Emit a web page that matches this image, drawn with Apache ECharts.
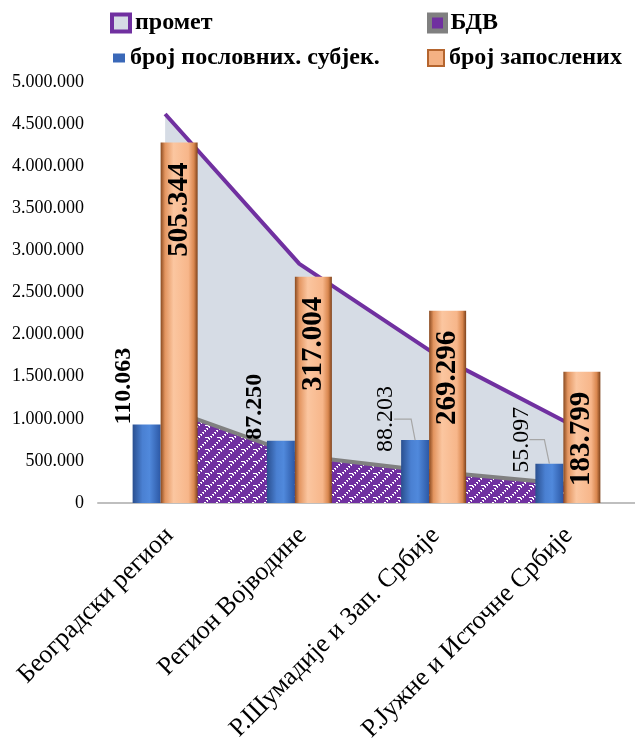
<!DOCTYPE html>
<html><head><meta charset="utf-8">
<script src="https://cdn.jsdelivr.net/npm/echarts@6/dist/echarts.min.js"></script>
<style>html,body{margin:0;padding:0;background:#fff}#c{width:635px;height:745px}</style>
</head><body><div id="c"></div>
<script>
// ---- data ----
const categories = ['Београдски регион', 'Регион Војводине', 'Р.Шумадије и Зап. Србије', 'Р.Јужне и Источне Србије'];
const prometValues = [4620000, 2840000, 1780000, 950000];
const bdvValues = [1130000, 560000, 375000, 225000];
const subjektiValues = [110063, 87250, 88203, 55097];
const zaposleniValues = [505344, 317004, 269296, 183799];
const seriesNames = ['промет', 'БДВ', 'број пословних. субјек.', 'број запослених'];

// ---- styling helpers ----
const SERIF = '"Liberation Serif", "Times New Roman", serif';
const fmt = v => String(Math.round(v)).replace(/\B(?=(\d{3})+(?!\d))/g, '.');

function makePattern() {
  const n = 12;
  const c = document.createElement('canvas');
  c.width = n; c.height = n;
  const g = c.getContext('2d');
  g.fillStyle = '#7030A0';
  g.fillRect(0, 0, n, n);
  g.fillStyle = '#ffffff';
  for (let i = 0; i < 6; i++) g.fillRect(i * 2, n - 2 - i * 2, 2, 1);
  for (let i = 0; i < 6; i++) g.fillRect(i * 2 + 1, n - 1 - i * 2, 1, 1);
  g.fillRect(1, 5, 4, 1);
  return c;
}

// label placement styles for the blue bars (relative to bar rect top-left)
const blueLabelPos = [[-9, 0], [-12, -1], [-15, 12], [-14, 9]];
const blueLabelWeight = ['bold', 'bold', 'normal', 'normal'];
// leader line offsets relative to the bar top centre
const leaderPath = [null, null, [[-21, -21], [-4, -21], [0, 0]], [[-20, -24], [-5, -24], [0, 0]]];
const blueCenterOffset = -18.5;

const blueGrad = new echarts.graphic.LinearGradient(0, 0, 1, 0, [
  { offset: 0, color: '#2A4F8F' }, { offset: 0.35, color: '#4A80D2' },
  { offset: 0.6, color: '#5089DC' }, { offset: 1, color: '#2C58A5' }
]);
const orangeGrad = new echarts.graphic.LinearGradient(0, 0, 1, 0, [
  { offset: 0, color: '#8A4A20' }, { offset: 0.12, color: '#E39560' },
  { offset: 0.35, color: '#FBC6A0' }, { offset: 0.75, color: '#F7B68A' },
  { offset: 0.9, color: '#D9874F' }, { offset: 1, color: '#7E421B' }
]);

const legendText = { fontFamily: SERIF, fontWeight: 'bold', fontSize: 24, color: '#000' };
function legend(name, left, top, w, h, itemStyle) {
  return {
    data: [{ name: name, icon: 'rect', itemStyle: itemStyle }],
    left: left, top: top, padding: 0, itemWidth: w, itemHeight: h,
    itemGap: 0, textStyle: legendText, selectedMode: false
  };
}

const chart = echarts.init(document.getElementById('c'));
chart.setOption({
  animation: false,
  backgroundColor: '#fff',
  legend: [
    legend(seriesNames[0], 110, 11, 18, 17, { color: '#D6DCE5', borderColor: '#7030A0', borderWidth: 4 }),
    legend(seriesNames[1], 427, 11, 16, 16, { color: '#7030A0', borderColor: '#808080', borderWidth: 5 }),
    legend(seriesNames[2], 113, 46, 12, 9, { color: '#3A68B8' }),
    legend(seriesNames[3], 427, 46, 16, 16, { color: '#F4B183', borderColor: '#B5652E', borderWidth: 2 })
  ],
  grid: [
    { left: 98, right: -3, top: 82, bottom: 242, containLabel: false },
    { left: 103, right: -8, top: 82, bottom: 242, containLabel: false }
  ],
  xAxis: [
    {
      type: 'category', data: categories,
      axisTick: { show: false },
      axisLine: { lineStyle: { color: '#BFBFBF', width: 2 } },
      axisLabel: { show: false }
    },
    {
      type: 'category', data: categories, gridIndex: 1,
      axisTick: { show: false }, axisLine: { show: false },
      axisLabel: { rotate: 45, interval: 0, margin: 35, fontFamily: SERIF, fontSize: 26, color: '#000' }
    }
  ],
  yAxis: [
    {
      type: 'value', min: 0, max: 5000000, interval: 500000,
      axisLine: { show: false }, axisTick: { show: false }, splitLine: { show: false },
      axisLabel: { formatter: fmt, fontFamily: SERIF, fontSize: 18, color: '#000', margin: 14 }
    },
    { type: 'value', min: 0, max: 590000, show: false, splitLine: { show: false } },
    { type: 'value', gridIndex: 1, show: false, splitLine: { show: false } }
  ],
  series: [
    {
      name: seriesNames[0], type: 'line', data: prometValues, symbol: 'none',
      lineStyle: { color: '#7030A0', width: 4 }, itemStyle: { color: '#7030A0' },
      areaStyle: { color: '#D6DCE5', opacity: 1 }, z: 1
    },
    {
      name: seriesNames[1], type: 'line', data: bdvValues, symbol: 'none',
      lineStyle: { color: '#808080', width: 4 }, itemStyle: { color: '#808080' },
      areaStyle: { color: { image: makePattern(), repeat: 'repeat' }, opacity: 1 }, z: 1
    },
    {
      name: seriesNames[2], type: 'bar', yAxisIndex: 1, barWidth: 28, barGap: '0%',
      data: subjektiValues.map((v, i) => ({
        value: v,
        label: { position: blueLabelPos[i], fontWeight: blueLabelWeight[i] }
      })),
      itemStyle: { color: blueGrad }, z: 3,
      label: {
        show: true, rotate: 90, align: 'left', verticalAlign: 'middle',
        fontFamily: SERIF, fontSize: 24, color: '#000', formatter: p => fmt(p.value)
      }
    },
    {
      name: seriesNames[3], type: 'bar', yAxisIndex: 1, barWidth: 37, barGap: '0%',
      data: zaposleniValues,
      itemStyle: { color: orangeGrad }, z: 3,
      label: {
        show: true, position: 'insideTop', distance: 20, rotate: 90, align: 'right', verticalAlign: 'middle',
        fontFamily: SERIF, fontSize: 29, fontWeight: 'bold', color: '#000', formatter: p => fmt(p.value)
      }
    },
    {
      type: 'custom', yAxisIndex: 1, silent: true, z: 4,
      data: subjektiValues.map((v, i) => [i, v]),
      renderItem: (params, api) => {
        const path = leaderPath[params.dataIndex];
        if (!path) return null;
        const p = api.coord([api.value(0), api.value(1)]);
        const cx = p[0] + blueCenterOffset;
        return {
          type: 'polyline',
          shape: { points: path.map(d => [cx + d[0], p[1] + d[1]]) },
          style: { stroke: '#A6A6A6', lineWidth: 1.2, fill: null }
        };
      }
    }
  ]
});
</script>
</body></html>
